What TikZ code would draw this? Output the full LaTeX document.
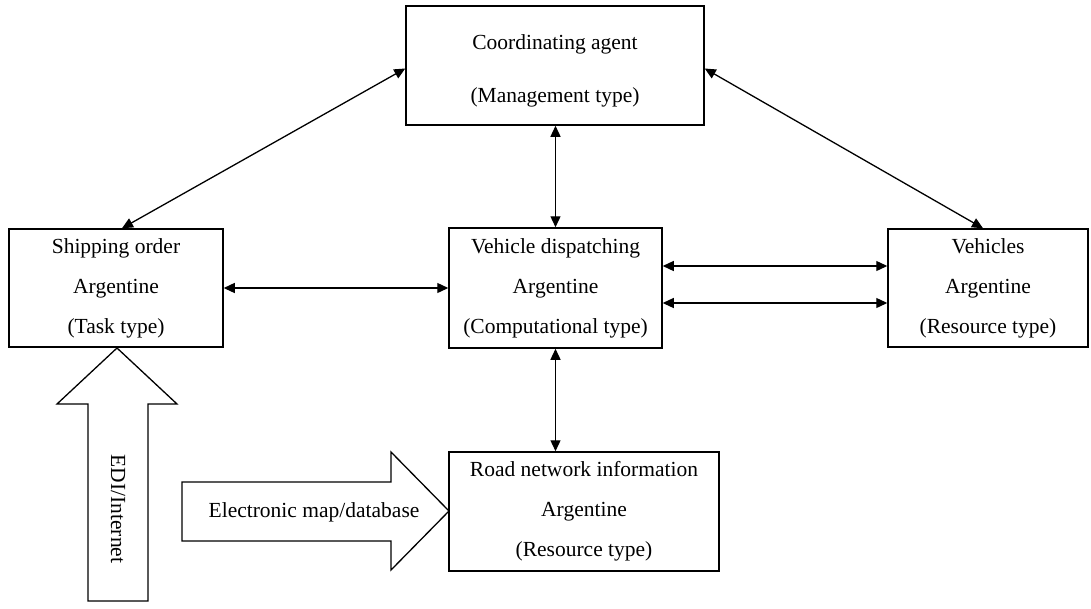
\documentclass[tikz,border=0pt]{standalone}
\usepackage{fontspec}
\setmainfont{Liberation Serif}
\usetikzlibrary{arrows.meta}
\begin{document}
\begin{tikzpicture}[x=1pt,y=-1pt,
  box/.style={draw,line width=1.5pt,rectangle,inner sep=0pt,align=center},
  txt/.style={font=\fontsize{21.5}{40}\selectfont},
  link/.style={line width=1.3pt,{Triangle[length=11pt,width=10pt]}-{Triangle[length=11pt,width=10pt]}},
  bigarrow/.style={draw,line width=1.3pt,fill=white}]
\useasboundingbox (0,0) rectangle (1091,608);

% external data inputs (drawn first, under the boxes)
\draw[bigarrow] (88,601) -- (88,404) -- (57,404) -- (117,348) -- (177,404)
  -- (148,404) -- (148,601) -- cycle;
\node[rotate=-90,font=\fontsize{21.5}{24}\selectfont] (edi) at (118,509) {EDI/Internet};
\draw[bigarrow] (182,482) -- (391,482) -- (391,452) -- (449,511) -- (391,570)
  -- (391,541) -- (182,541) -- cycle;
\node[font=\fontsize{21.5}{24}\selectfont] (emap) at (314,512) {Electronic map/database};

% agent boxes
\node[box,minimum width=298pt,minimum height=119pt] (coord) at (555,65.5) {};
\node[align=center,font=\fontsize{21.5}{53}\selectfont]
  (coordtxt) at (555,70.5) {Coordinating agent\\(Management type)};
\node[box,txt,minimum width=214pt,minimum height=118pt]
  (ship) at (116,288) {Shipping order\\Argentine\\(Task type)};
\node[box,txt,minimum width=213pt,minimum height=120pt]
  (disp) at (555.5,288) {Vehicle dispatching\\Argentine\\(Computational type)};
\node[box,txt,minimum width=200pt,minimum height=118pt]
  (veh) at (988,288) {Vehicles\\Argentine\\(Resource type)};
\node[box,txt,minimum width=270pt,minimum height=119pt]
  (road) at (584,511.5) {Road network information\\Argentine\\(Resource type)};

% communication links
\draw[link] ([yshift=-3pt]coord.west) -- ([xshift=6pt]ship.north);
\draw[link] ([yshift=-3pt]coord.east) -- ([xshift=-5pt]veh.north);
\draw[link] (coord.south -| disp.north) -- (disp.north);
\draw[link] (ship.east) -- (disp.west);
\draw[link] ([yshift=22pt]disp.east) -- ([yshift=22pt]disp.east -| veh.west);
\draw[link] ([yshift=-15pt]disp.east) -- ([yshift=-15pt]disp.east -| veh.west);
\draw[link] (disp.south) -- (disp.south |- road.north);
\end{tikzpicture}
\end{document}
